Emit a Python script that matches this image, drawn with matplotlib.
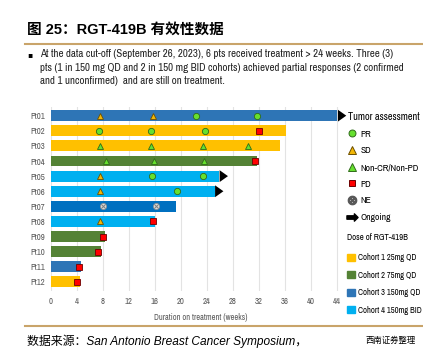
import matplotlib
matplotlib.use("Agg")
import matplotlib.pyplot as plt
from matplotlib.lines import Line2D
from matplotlib.patches import Patch

# patients and bar data
patients = ["Pt01", "Pt02", "Pt03", "Pt04", "Pt05", "Pt06",
            "Pt07", "Pt08", "Pt09", "Pt10", "Pt11", "Pt12"]
cohort = [3, 1, 1, 2, 4, 4, 3, 4, 2, 2, 3, 1]
duration = [44.1, 36.2, 35.2, 31.8, 25.9, 25.2, 19.3, 16.1, 8.4, 7.7, 4.7, 4.5]
ongoing = ["Pt01", "Pt05", "Pt06"]

# tumor assessments (patient, week)
pr_pt = ["Pt01", "Pt01", "Pt02", "Pt02", "Pt02", "Pt05", "Pt05", "Pt06"]
pr_wk = [22.3, 31.7, 7.5, 15.5, 23.7, 15.6, 23.5, 19.5]
sd_pt = ["Pt01", "Pt01", "Pt05", "Pt06", "Pt08"]
sd_wk = [7.6, 15.7, 7.6, 7.6, 7.6]
ncr_pt = ["Pt03", "Pt03", "Pt03", "Pt03", "Pt04", "Pt04", "Pt04"]
ncr_wk = [7.6, 15.4, 23.5, 30.4, 8.5, 15.9, 23.6]
pd_pt = ["Pt02", "Pt04", "Pt08", "Pt09", "Pt10", "Pt11", "Pt12"]
pd_wk = [32.0, 31.4, 15.8, 8.0, 7.3, 4.35, 4.1]
ne_pt = ["Pt07", "Pt07"]
ne_wk = [8.1, 16.2]

cohort_names = ["Cohort 1 25mg QD", "Cohort 2 75mg QD", "Cohort 3 150mg QD", "Cohort 4 150mg BID"]
cohort_colors = {1: "#FFC000", 2: "#548235", 3: "#2E75B6", 4: "#00B0F0"}
bar_color_override = {"Pt07": "#0070C0"}

NARROW = ["Liberation Sans Narrow", "Archivo Narrow", "Liberation Sans"]
plt.rcParams['font.family'] = ['Liberation Sans', 'Noto Sans CJK SC', 'DejaVu Sans']

fig = plt.figure(figsize=(4.23, 3.53), dpi=100)

# header
fig.text(27/423, 1 - 30/353, "图 25：RGT-419B 有效性数据", fontsize=10.5, fontweight="bold",
         va="center", ha="left", color="#000000")
fig.add_artist(Line2D([25/423, 1], [1 - 44/353, 1 - 44/353], color="#C9A46A", lw=1.5))
fig.add_artist(Line2D([25/423, 1], [1 - 326/353, 1 - 326/353], color="#C9A46A", lw=1.5))

body = ("At the data cut-off (September 26, 2023), 6 pts received treatment > 24 weeks. Three (3)\n"
        "pts (1 in 150 mg QD and 2 in 150 mg BID cohorts) achieved partial responses (2 confirmed\n"
        "and 1 unconfirmed)  and are still on treatment.")
fig.text(27/423, 1 - 55/353, "▪", fontsize=5.5, va="center", ha="left", family="DejaVu Sans")
fig.text(40/423, 1 - 49/353, body, fontsize=7.85, va="top", ha="left",
         family=NARROW, linespacing=1.44, color="#222222")

fig.text(27/423, 1 - 341/353, "数据来源：San Antonio Breast Cancer Symposium，",
         fontsize=8.6, style="italic", va="center", ha="left")
fig.text(365/423, 1 - 341/353, "西南证券整理", fontsize=6, style="italic", va="center", ha="left")

# main chart
ax = fig.add_axes([50.7/423, 1 - 291/353, (46 * 6.5)/423, (291 - 106.6)/353])
ypos = {p: i for i, p in enumerate(patients)}
bar_colors = [bar_color_override.get(p, cohort_colors[c]) for p, c in zip(patients, cohort)]
ax.barh(range(len(patients)), duration, height=0.72, color=bar_colors, zorder=2)

for p in ongoing:
    y = ypos[p]
    end = duration[y]
    ax.annotate("", xy=(end + 1.8, y), xytext=(end - 0.1, y), annotation_clip=False,
                arrowprops=dict(arrowstyle="simple,head_length=0.6,head_width=0.85,tail_width=0.38",
                                color="black", lw=0), zorder=4)

ax.plot(pr_wk, [ypos[p] for p in pr_pt], "o", ms=4.5, mfc="#66E02E", mec="#2F6B1A", mew=0.6, zorder=5)
ax.plot(sd_wk, [ypos[p] for p in sd_pt], "^", ms=5, mfc="#F2B705", mec="#6B4E00", mew=0.6, zorder=5)
ax.plot(ncr_wk, [ypos[p] for p in ncr_pt], "^", ms=5, mfc="#66E02E", mec="#2F6B1A", mew=0.6, zorder=5)
ax.plot(pd_wk, [ypos[p] for p in pd_pt], "s", ms=5, mfc="#FF0000", mec="#6B0000", mew=0.6, zorder=5)
ax.plot(ne_wk, [ypos[p] for p in ne_pt], "o", ms=4.5, mfc="#D9D9D9", mec="#8C8C8C", mew=0.5, zorder=5)
ax.plot(ne_wk, [ypos[p] for p in ne_pt], "x", ms=2.8, mec="#7F7F7F", mew=0.7, zorder=6)

ax.set_xlim(0, 46)
ax.set_ylim(len(patients) - 0.4, -0.6)
ax.set_xticks(range(0, 45, 4))
ax.set_yticks(range(len(patients)))
ax.set_yticklabels(patients)
ax.tick_params(axis="both", length=0, labelsize=6.3, labelcolor="#595959", pad=4)
for lab in ax.get_xticklabels() + ax.get_yticklabels():
    lab.set_family(NARROW)
ax.set_xlabel("Duration on treatment (weeks)", fontsize=6, color="#595959", labelpad=5, family=NARROW)
ax.grid(axis="x", color="#E3E3E3", lw=0.8, zorder=0)
for s in ax.spines.values():
    s.set_visible(False)

# legends
ta_handles = [
    Line2D([], [], ls="", marker="o", ms=5, mfc="#66E02E", mec="#2F6B1A", mew=0.7),
    Line2D([], [], ls="", marker="^", ms=5.5, mfc="#F2B705", mec="#6B4E00", mew=0.7),
    Line2D([], [], ls="", marker="^", ms=5.5, mfc="#66E02E", mec="#2F6B1A", mew=0.7),
    Line2D([], [], ls="", marker="s", ms=5, mfc="#FF0000", mec="#6B0000", mew=0.7),
    Line2D([], [], ls="", marker="$\u2297$", ms=6, color="#595959"),
    Line2D([], [], ls="", marker="$\u27A1$", ms=8, color="black"),
]
ta_labels = ["PR", "SD", "Non-CR/Non-PD", "PD", "NE", "Ongoing"]
leg1 = fig.legend(ta_handles, ta_labels, title="Tumor assessment", loc="upper left",
                  bbox_to_anchor=(348/423, 1 - 112/353), frameon=False,
                  prop={"family": NARROW, "size": 6.9},
                  title_fontproperties={"family": NARROW, "weight": "bold", "size": 7.4},
                  alignment="left", handlelength=0.85, handletextpad=0.45, labelspacing=0.8,
                  borderpad=0, borderaxespad=0)

co_handles = [Patch(color=cohort_colors[i + 1]) for i in range(4)]
leg2 = fig.legend(co_handles, cohort_names, title="Dose of RGT-419B", loc="upper left",
                  bbox_to_anchor=(347/423, 1 - 233/353), frameon=False,
                  prop={"family": NARROW, "size": 6.1},
                  title_fontproperties={"family": NARROW, "weight": "bold", "size": 6.3},
                  alignment="left", handlelength=0.9, handleheight=0.9, handletextpad=0.35,
                  labelspacing=1.0, borderpad=0, borderaxespad=0)
leg2._legend_box.sep = 8

fig.savefig("out.png", dpi=100)
